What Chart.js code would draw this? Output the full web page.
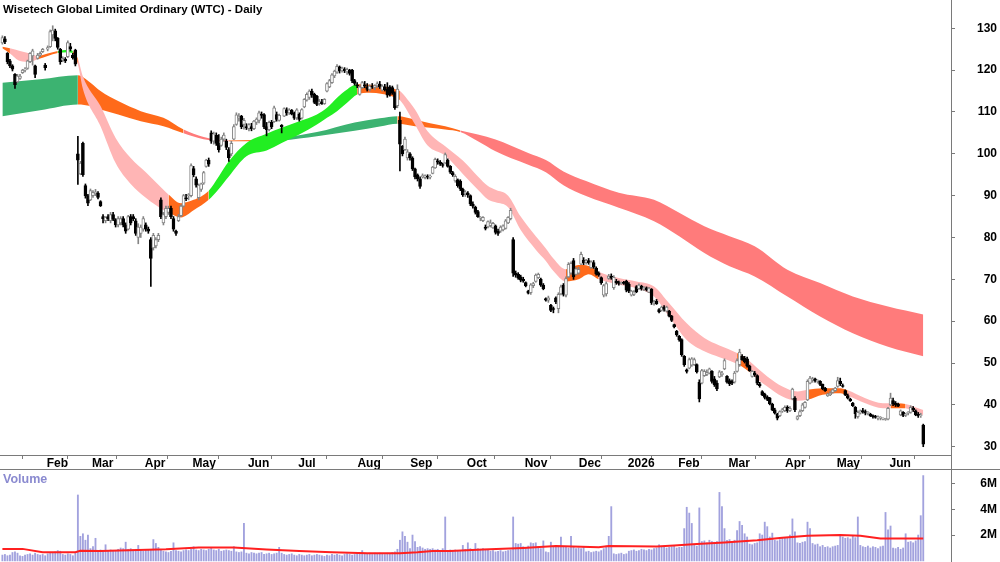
<!DOCTYPE html>
<html>
<head>
<meta charset="utf-8">
<script src="https://cdn.jsdelivr.net/npm/chart.js@4.4.1/dist/chart.umd.min.js"></script>
<style>
  body { margin: 0; background: #fff; width: 1000px; height: 562px; overflow: hidden; position: relative; }
  #pc { position: absolute; left: 0; top: 0; }
  #vc { position: absolute; left: 0; top: 469px; }
  .t { position: absolute; font-weight: bold; white-space: nowrap; line-height: 1;
       font-family: 'Liberation Sans Narrow', 'Arial Narrow', 'Liberation Sans', Arial, sans-serif; }
  .ln { position: absolute; background: #7a7a7a; }
</style>
</head>
<body>
<canvas id="pc" width="1000" height="469"></canvas>
<canvas id="vc" width="1000" height="93"></canvas>
<div class="ln" style="left:951px;top:0;width:1px;height:562px"></div>
<div class="ln" style="left:0;top:469px;width:1000px;height:1px"></div>
<div class="t" style="left:3px;top:4px;font-size:11.5px;color:#000">Wisetech Global Limited Ordinary (WTC) - Daily</div>
<div class="t" style="left:3px;top:473px;font-size:12.5px;color:#8a8ad0">Volume</div>
<script>
const F = "'Liberation Sans Narrow','Arial Narrow','Liberation Sans',Arial,sans-serif";
Chart.defaults.font.family = F;

// daily bars, index 0 = first session shown (mid Jan 2025)
const opens = [
  126.5,127.5,124,122.2,121,119,117.2,118,119.4,120,
  120.4,122,123.4,121,122.8,123.6,124.4,121.2,125,125.6,
  128.4,129.4,127.6,125,122.4,122.6,123.2,125.6,123.6,124.8,
  100,95.2,102.5,92.4,90,89,90,90.4,90.6,88.6,
  85,84,85,84,85.5,84.3,83,83.5,84.5,83,
  82,85,85,84,80,81,82,83,82,79.5,
  77.5,78,79.5,89,83.5,85,86,87,84.5,81.5,
  84,85.2,87.5,89.5,90,90,96.5,94,89.5,91.5,
  93,97,98.5,105,103,104.5,102.5,102,103.5,103,
  101,100,103.5,107,108.5,109,107,106.5,106,106.5,
  106,107.5,108,109.5,109.4,106.5,105.8,107.5,107.7,109.4,
  108,106.8,109,110.5,109.8,110.4,109.8,108.6,109.5,108.5,
  111.2,112.8,113.5,115,114.2,113.8,112,112.4,112,115,
  116,117,118.6,119.5,120.8,119.8,120.2,119.6,120,120,
  117.5,116.5,114.2,115.8,116.5,116,115.4,116,115.8,116.2,
  116.6,115.2,116,115.5,116,115.8,114.6,111.5,108,101.8,
  101,99,100,99,96.4,95,94,94.5,94.3,94.5,
  94.4,95.3,96.6,98.3,98,97.4,97.8,98.5,97,95.5,
  93.5,93.8,93.5,91.5,90.5,90.6,90,88,87.3,86.2,
  84.6,84,82.5,82.5,82.8,82.3,82.8,81.5,81.5,81.8,
  82.2,83.5,84.5,79.5,71.5,71.2,70.6,70,69.2,67.2,
  66.8,68.5,69.5,70.4,70,68.6,65.4,65,63.8,63,
  65.6,63,66.5,68.6,66.2,70.6,71.5,74.5,71.2,71.5,
  73.6,74.6,74,74.5,72.8,74,72.7,71.5,70.4,66.2,
  66.5,70.2,70.8,68,69.5,69.2,69,69.3,69.5,68.8,
  66.2,66.4,68.3,67.8,68.4,67.8,68,66.9,67.6,64.4,
  64.8,62.8,62.6,63.4,62.4,62.4,61.2,59.2,57.6,56.4,
  55.6,51.6,48.4,48.8,49.5,49.6,49.6,45.4,45.2,47,
  47.3,47.6,48,46.2,45.2,46.7,47.2,48.6,46.8,45.8,
  45.6,45.4,48,49.6,51.6,51.2,51,49.2,46.8,47.6,
  47,45,43.2,42.6,41.9,41.6,40.2,38.8,37.8,37.4,
  38.5,38.6,39.5,38.6,41.4,41.6,36.6,37.4,38.6,39.4,
  41.2,45.2,46,46.2,45.6,45.6,44.9,44,42.2,42.4,
  43,43.4,44.4,45.6,44.6,43.4,42.2,41.4,40.4,39.4,
  37.2,38,38.6,38.4,38,37.8,37.4,37.2,36.8,36.8,
  36.6,36.5,36.6,40,41,40.4,40.2,37.6,38.2,37.5,
  38,38.2,39.2,38.6,37.8,37.4,35.2
];
const highs = [
  128.2,128,124.2,122.6,121.3,119.2,119,119,120.2,120.6,
  122.4,124.2,125,121.2,124,124.4,125.2,121.6,125.8,129.6,
  130.6,129.8,127.8,125.2,123.2,123,127,126.4,124,125,
  104.2,98.2,102.8,92.8,90.3,91.6,91.2,91.5,91,88.8,
  85.5,85,85.5,86,86,84.5,85,85,85,83.5,
  85.3,85.5,85.5,84.5,83.3,83,85,83.5,82.5,80,
  81,80,81,89.5,86,87.5,87.5,87.5,85,81.8,
  85.5,87.8,90.3,90.3,90.5,97.6,97,94.5,92.8,93,
  95.8,98.7,99,105.5,105.2,105,104.6,104,105,103.5,
  101.5,103,107,109.8,109.6,109.2,108.5,107.2,107.2,107.3,
  108,108.6,110.2,110,109.6,107.5,107.8,108,111.4,110,
  109.5,107,111,111,110.8,110.6,110,110.8,109.8,110.8,
  113.2,114.6,115.3,115.5,114.5,114,113,113,113.2,117,
  117.8,119.2,120,121.3,121,120.7,120.6,120.5,120.2,120.2,
  117.8,117,116.3,117.3,117.3,116.8,116.5,116.8,116.5,117.2,
  117.3,116.5,116.6,117,116.3,116.2,114.8,116.5,110,102,
  104,101,100.3,99.3,96.6,95.2,94.5,95.2,95,95,
  95,97,99,98.8,98.4,97.8,100.2,98.8,97.2,95.8,
  95,94,93.8,91.8,91.2,91,90.2,88.5,87.5,86.5,
  85,85,83,84,84.2,83.6,83,82,82.8,83,
  84.3,85,87,80,72,71.6,71,70.5,69.4,67.4,
  69,69.3,71.3,71.5,70.3,69,65.6,66,64,63.4,
  65.8,66.8,68.6,69,70.6,74,74.2,75,72.8,72.9,
  76.5,75.2,74.8,75,74.4,74.5,73,71.8,70.6,68.8,
  69.4,71.2,71.3,70.9,70,69.6,69.4,69.5,69.8,69.2,
  67.4,67.3,68.5,68.9,68.6,68.3,68.2,68.1,67.8,65,
  65.2,63,63.6,63.7,63.6,62.6,61.4,59.3,57.8,56.6,
  55.8,51.8,48.6,51.2,51.3,51.2,49.8,46,48.5,48.4,
  48.4,48.8,48.2,46.8,45.8,48.2,48,51,47,46.2,
  46,48,51,53.3,52,51.6,51.4,49.5,48.2,48,
  47.2,45.4,43.4,42.8,42.2,41.8,40.4,39.2,38,38.6,
  39.2,39.8,39.8,39.6,44,42,37.4,38.8,40.4,40.8,
  46,46.8,46.6,46.4,46,45.8,45,44.2,42.8,43.2,
  43.8,44.2,46.6,46.4,45,43.6,42.6,41.6,40.6,39.6,
  38.6,38.8,39.2,38.8,38.4,38,37.6,37.5,37.4,37.2,
  36.9,36.8,39.4,42.8,41.6,40.8,40.4,38.8,38.4,38,
  38.4,39.8,39.6,38.8,38.2,38,35.4
];
const lows = [
  126.2,126.3,121.5,120.6,119.8,115.6,117,117.8,119.2,119.6,
  120.2,121.8,121.2,118.2,122.6,123.2,124.2,120,124.6,125.4,
  127,127,125,121.4,122,121.8,123,124.6,122.6,121,
  92.7,95,94.6,89.4,87.6,88.8,89.6,90,89.2,87.4,
  83.5,83.5,84,83.5,84,82.5,82.5,83,82.5,81,
  81.8,83,84,80.5,78.5,80,81.5,81.5,81,68.3,
  77,77.5,79,84.5,83,84.5,85.5,84.5,81.5,80.5,
  83.8,85,87.3,88.8,89,89.7,94.5,92,89,91,
  92.7,96.8,97,102.5,102.3,102,100.4,101.8,103,101,
  98.2,99.5,103.4,106.8,107.8,106,105.9,105.8,105.5,105.5,
  105.8,107,107.4,108.5,106,104.3,105.5,106,107.5,107.8,
  107.8,105,108.9,109.2,109.4,109.3,108.2,108.2,107.8,108.3,
  111,112.6,113,113.5,112,111.5,111.6,111.8,111.8,114.8,
  115.8,116.8,118.2,119.2,119.3,119.5,119.4,119,118.8,117,
  116.4,115.8,114,115.6,115.8,115,115,115.6,115.3,115.8,
  115.6,115,115,113.5,113.8,114.2,110.6,111,95.9,99.5,
  100.8,98.5,98.5,96,94,93.5,91.7,94.2,94,94,
  94,95.2,96.5,97.5,97.2,96.8,97.6,96.8,95.3,94.6,
  93.2,92,91.2,89.8,89.8,89.6,87.6,87,85.6,84.8,
  84,83.8,81.8,82.3,82.5,82.2,80.8,80.5,81.2,81.6,
  82,83.3,84.2,70.7,70.5,70,69.4,69.3,68.2,66.5,
  66.4,68,69.3,70.2,68.3,67.5,64.8,64.5,62.3,62,
  64.2,62,66.3,66,65.8,70.4,71.2,70,71,71.2,
  73.5,73.5,73.6,73.6,72.6,72.6,71,70.7,68.8,65.8,
  66,70,70,67.6,68.8,68.6,68.8,68.8,67,66.8,
  66,66.1,66.8,67.6,67.4,67.3,67.2,66.8,64,63.8,
  64,62,62.4,62.4,62.2,61,59.9,58.4,56.4,55.2,
  51.6,49.2,47.6,48.6,49.2,49.4,47.6,40.7,45,46.8,
  47,47.4,45.2,44.4,43.4,46.5,46.8,48.4,45.2,44.6,
  44.8,45.2,47.8,49.2,50.6,50,49,48,46.6,46.8,
  44.8,44.2,42.2,41.4,41,40,38.6,37.8,36.4,37.2,
  38.2,38.4,38.2,38.4,41.2,38.4,36.4,37.2,38.4,39.2,
  41,45,45.4,45.4,45.2,44.6,43.6,43.2,42,42.2,
  42.8,43.2,44.2,44.6,44.2,42.2,41.4,40.8,39.6,36.8,
  36.8,37.8,38,37.6,37.6,37.2,36.8,36.8,36.4,36.4,
  36.4,36.3,36.4,39.8,39.8,39.6,39.6,37.4,37.2,37.2,
  37.6,38,38.4,37.4,37,37,30
];
const closes = [
  127.8,126.8,122,121,120.2,116.5,118.6,118.6,120,120.2,
  122.2,124,124.6,119,123.6,124,125,120.6,125.4,129.2,
  129.6,127.6,125.4,122,122.8,122.2,126.6,125,123,121.4,
  98.5,97.8,95,90,88.2,91.2,90.8,90.9,89.6,87.6,
  84.5,84.8,84.5,85.5,84.3,83,84.5,84.5,83,81.5,
  85,83.5,84.5,81,82.5,82.5,84.5,82,81.5,75,
  80.5,79.5,80.5,85,85.5,87,87,85,82,81,
  85,87.5,90,89.2,90,97.2,95,92.5,92.5,92.8,
  95.5,98.5,97.5,103,104.8,102.5,101,103.5,104.5,101.5,
  99,102.5,106.5,109.3,109,106.5,108,106.2,107,106,
  107.8,108.3,109.8,109.2,106.4,105.8,107.5,106.5,111,108.2,
  109.2,106.5,110.8,109.8,110.5,109.5,108.5,110.5,108.2,110.6,
  113,114.2,115,114,112.3,111.8,112.5,112,113,116.8,
  117.5,118.9,119.8,120.9,119.8,120.5,119.8,120.2,119.2,117.4,
  116.8,116.2,116,117,116.2,115.4,116.2,115.9,116.3,116.8,
  116,116.2,115.3,114,114.2,114.6,111,115.5,102.3,100,
  103.5,100.5,99,96.4,94.5,94,92.2,94.8,94.8,94.4,
  94.7,96.8,98.7,98,97.5,97.2,99.8,97,95.6,95,
  94.6,92.4,91.6,90.2,90.8,90.2,88,87.5,86,85,
  84.6,84.8,82.2,83.8,83.5,83.4,81.2,81,82.5,82.8,
  84,84.8,86.5,71.5,71,70.3,69.8,69.6,68.5,66.7,
  68.7,69,71,71.2,68.6,67.8,65,65.6,62.6,62.8,
  64.6,66.4,68.2,66.4,70.2,73.6,73.8,70.6,72.5,72.4,
  76,74,74.5,73.9,74.2,72.9,71.3,71,69.2,68.5,
  69,70.8,70.3,70.5,69.2,69,69.2,69,67.4,67.2,
  67.2,67,67,68.6,67.8,68,67.5,67.9,64.4,64.6,
  64.2,62.2,63.4,62.8,63.4,61.2,60.2,58.6,56.8,55.5,
  52,49.6,48,50.8,51,50.8,47.9,41.4,48.2,48,
  47.8,48.6,45.6,44.8,43.8,47.9,47.6,50.6,45.4,45,
  45.2,47.6,50.6,52.6,50.8,50.3,49.3,48.2,48,47.2,
  45.2,44.6,42.4,41.8,41.3,40.2,38.8,38,36.8,38.4,
  38.9,39.4,38.6,39.2,43.8,38.8,37.2,38.4,40,40.6,
  45.6,46.4,46.2,45.8,45.6,44.9,43.9,43.4,42.6,42.8,
  43.6,44,45.8,45,44.4,42.4,41.6,41,39.8,37.9,
  38.2,38.6,38.4,38,38.2,37.4,37.2,37,37.2,36.9,
  36.7,36.6,39.2,41.6,40.2,40,39.7,38.6,37.5,37.8,
  38.2,39.4,38.8,37.6,37.4,37.6,30.6
];
// volume in millions of shares
const volumes = [
  0.45,0.5,0.4,0.45,0.65,0.7,0.6,0.4,0.35,0.45,
  0.5,0.55,0.45,0.6,0.5,0.45,0.5,0.4,0.55,0.6,
  0.65,0.7,0.8,0.75,0.5,0.45,0.55,0.5,0.4,0.6,
  5.1,1.9,2.1,1.6,2.0,0.95,1.1,1.75,0.8,0.85,
  0.8,1.25,0.8,0.85,0.75,0.8,0.9,1.0,0.95,1.45,
  0.9,0.95,0.85,0.9,1.2,0.8,0.75,0.8,0.85,0.9,
  1.65,1.35,1.05,0.85,0.75,0.7,0.65,0.75,1.4,0.8,
  0.75,0.7,0.8,0.85,0.8,0.9,1.1,0.85,0.8,0.9,
  0.85,0.8,0.9,1.05,0.85,0.8,0.9,0.75,0.8,0.85,
  0.8,0.75,1.1,0.7,0.65,0.7,2.9,0.6,0.55,0.65,
  0.6,0.55,0.6,0.65,0.5,0.55,0.6,0.5,0.55,0.6,
  1.05,0.6,0.5,0.45,0.5,0.55,0.45,0.4,0.5,0.45,
  0.4,0.45,0.5,0.4,0.45,0.5,0.45,0.4,0.35,0.45,
  0.4,0.5,0.45,0.5,0.45,0.4,0.5,0.55,0.5,0.45,
  0.5,0.6,0.55,0.8,0.6,0.55,0.6,0.5,0.6,0.55,
  0.6,0.55,0.5,0.6,0.55,0.65,0.7,0.9,1.6,2.25,
  1.9,1.45,0.95,2.0,1.5,1.05,1.1,1.0,0.9,0.95,
  0.9,0.95,0.85,0.9,0.8,0.95,3.4,0.8,0.85,0.8,
  0.85,0.75,0.8,1.2,0.9,1.4,0.95,0.9,1.35,0.95,
  0.9,0.95,0.9,0.85,0.75,0.8,0.7,0.75,0.8,0.7,
  0.75,0.8,0.85,3.4,1.35,1.3,1.35,1.1,1.05,1.15,
  1.4,1.35,1.4,1.1,0.95,1.55,0.7,0.65,1.45,1.05,
  1.1,1.05,1.85,1.05,1.1,1.0,1.9,1.05,0.95,1.0,
  0.95,1.05,0.7,0.75,0.65,0.7,0.75,0.7,0.8,0.95,
  1.15,1.9,4.2,0.55,0.5,0.55,0.6,0.5,0.55,0.75,
  0.8,0.85,0.75,0.8,0.9,0.85,0.8,0.9,0.85,0.95,
  1.0,1.25,1.05,1.1,1.0,1.05,1.1,1.2,1.0,1.05,
  1.05,2.5,4.15,3.7,2.9,1.2,1.15,4.1,1.5,1.55,
  1.4,1.6,1.5,1.45,1.5,5.3,4.2,2.5,1.6,1.65,
  1.5,1.6,2.35,3.05,2.75,2.1,1.85,1.3,1.25,1.35,
  1.4,2.1,2.0,3.0,2.65,1.85,2.15,1.6,1.55,1.65,
  1.8,1.75,1.8,2.0,3.25,2.25,1.4,1.35,1.45,1.5,
  3.0,2.5,1.35,1.25,1.3,1.1,1.2,1.05,1.1,1.0,
  1.1,1.15,1.2,2.0,1.85,1.75,1.8,1.7,1.9,1.8,
  3.4,1.2,1.1,1.05,1.15,1.0,1.1,1.05,0.95,1.1,
  1.15,3.75,2.4,2.7,1.0,0.95,1.05,0.9,1.0,2.1,
  1.45,1.5,1.4,1.55,2.0,3.5,6.6
];

// short-term ribbon: edges read at sample sessions, trend state u/m/d
const shortIdx = [0,3,7,11,14,18,22,26,28,30,32,39,45,51,57,64,66,71,76,82,86,90,97,105,111,118,125,129,133,137,141,146,151,156,158,161,164,169,176,183,189,193,196,201,206,212,216,219,224,229,233,237,245,252,259,265,272,279,285,292,297,300,304,310,316,320,326,333,336,343,350,353,359,362,366];
const shortTop = [125.6,125.2,124.6,124.0,123.4,124.0,124.6,124.9,124.6,122.8,118.5,111.4,103.8,99.0,95.6,91.4,90.3,88.2,89.0,91.2,94.6,98.2,102.6,104.8,106.2,107.8,109.4,111.0,113.4,115.4,116.6,116.5,116.2,115.5,115.0,113.0,110.6,105.4,101.8,98.4,94.6,92.3,91.4,90.0,85.0,80.3,77.4,75.0,72.4,73.4,73.2,71.8,70.3,69.5,68.3,64.3,59.5,56.0,54.2,52.4,50.4,48.8,46.8,44.4,43.2,43.6,44.0,44.0,43.5,41.6,40.4,40.4,40.2,39.6,38.8];
const shortBottom = [125.2,124.0,122.2,122.0,122.6,123.4,124.1,124.3,124.0,121.4,115.5,106.6,97.8,92.8,89.5,86.6,86.0,84.8,86.5,89.0,91.6,94.6,99.4,100.8,102.6,104.6,107.0,108.6,110.2,112.2,114.2,114.6,114.3,113.5,112.8,110.2,107.0,102.0,99.6,95.2,91.4,89.1,88.4,87.2,81.8,77.1,74.4,72.0,69.5,70.0,71.2,70.0,68.7,67.9,65.9,61.1,55.5,52.8,51.4,49.8,47.8,46.2,44.4,42.0,41.0,41.2,42.4,42.8,42.2,40.4,39.2,39.2,39.2,38.4,37.6];
const shortState = ['m','d','d','d','m','m','u','u','m','d','d','d','d','d','d','d','m','m','m','u','u','u','u','u','u','u','u','u','u','u','m','m','m','m','d','d','d','d','d','d','d','d','d','d','d','d','d','d','m','m','m','d','d','d','d','d','d','d','d','m','d','d','d','d','d','m','m','m','d','d','d','m','d','d','d'];

// long-term ribbon
const longIdx = [0,15,30,35,39,46,55,64,72,80,90,100,111,125,140,150,157,164,170,176,182,189,196,202,209,216,223,232,245,259,269,279,289,299,312,325,338,352,366];
const longTop = [117.0,117.8,118.8,117.0,115.0,112.6,110.2,108.6,105.8,104.0,103.2,103.3,103.8,105.2,107.5,108.5,109.0,108.2,107.3,106.6,105.6,104.6,103.4,102.0,100.2,98.5,95.8,93.5,90.7,89.0,85.9,82.7,80.3,77.9,72.3,69.1,65.9,63.5,61.6];
const longBottom = [109.0,110.4,111.8,111.4,110.6,109.4,107.8,106.6,104.9,103.5,103.0,103.0,103.2,104.2,105.5,106.5,107.2,106.6,106.2,105.8,105.2,103.0,100.6,99.0,97.4,95.6,92.5,89.9,87.1,83.9,80.3,76.3,73.1,70.7,65.9,61.1,57.1,53.9,51.6];
const longState = ['u','u','m','m','m','m','m','m','d','d','m','m','u','u','u','u','m','m','m','m','d','d','d','d','d','d','d','d','d','d','d','d','d','d','d','d','d','d','d'];

// volume moving average
const volMaIdx = [0,8,16,29,31,39,65,78,92,105,118,131,145,158,165,171,178,191,207,220,237,241,260,267,276,287,300,310,320,333,341,349,360,366];
const volMa = [0.93,0.93,0.67,0.67,0.78,0.77,0.9,1.03,1.03,0.88,0.77,0.67,0.6,0.6,0.67,0.77,0.77,0.88,1.0,1.15,1.05,1.15,1.12,1.2,1.3,1.43,1.6,1.8,1.95,2.0,1.95,1.73,1.73,1.73];

const monthIdx = [17,35,56,75,97,117,140.5,161.5,184,207,228.5,248,268,288,310.5,331,352];
const monthLabels = ['Feb','Mar','Apr','May','Jun','Jul','Aug','Sep','Oct','Nov','Dec','2026','Feb','Mar','Apr','May','Jun'];
const priceTicks = [30,40,50,60,70,80,90,100,110,120,130];
const volTicks = [2,4,6];

const shortColors = { u: '#22ee22', m: '#ff6a1a', d: '#ffb5b5' };
const longColors = { u: '#3cb371', m: '#ff6a1a', d: '#ff7b7b' };
const UP = '#858585';
const GRID = '#7a7a7a';
const X_MIN = -0.954, X_MAX = 377.03;
const AXIS_W = 46;
const tickFont = { family: F, size: 12, weight: 'bold' };

function widest(labels, size) {
  const c = document.createElement('canvas').getContext('2d');
  c.font = 'bold ' + size + 'px ' + F;
  return Math.max.apply(null, labels.map(s => c.measureText(s).width));
}
const pricePad = 997 - 951 - 4 - widest(priceTicks.map(String), 12);
const volPad = 997 - 951 - 4 - widest(volTicks.map(v => v + 'M'), 12);

function pts(xs, ys) { return xs.map((x, i) => ({ x: x, y: ys[i] })); }

function yAxis(min, max, ticks, pad, cb) {
  return {
    type: 'linear', position: 'right', min: min, max: max,
    afterBuildTicks: s => { s.ticks = ticks.map(v => ({ value: v })); },
    afterFit: s => { s.width = AXIS_W; s.paddingTop = 0; s.paddingBottom = 0; },
    grid: { drawOnChartArea: false, tickLength: 4, color: GRID },
    border: { display: false },
    ticks: { crossAlign: 'far', padding: pad, color: '#000', font: tickFont, callback: cb }
  };
}

// price panel
new Chart(document.getElementById('pc'), {
  type: 'bar',
  data: {
    datasets: [
      { type: 'line', data: pts(longIdx, longBottom), borderWidth: 0, pointRadius: 0,
        fill: false, cubicInterpolationMode: 'monotone', order: 20 },
      { type: 'line', data: pts(longIdx, longTop), borderWidth: 0, pointRadius: 0,
        fill: '-1', backgroundColor: longColors.d, cubicInterpolationMode: 'monotone', order: 19,
        segment: { backgroundColor: c => longColors[longState[c.p0DataIndex]] } },
      { type: 'line', data: pts(shortIdx, shortBottom), borderWidth: 0, pointRadius: 0,
        fill: false, cubicInterpolationMode: 'monotone', order: 18 },
      { type: 'line', data: pts(shortIdx, shortTop), borderWidth: 0, pointRadius: 0,
        fill: '-1', backgroundColor: shortColors.d, cubicInterpolationMode: 'monotone', order: 17,
        segment: { backgroundColor: c => shortColors[shortState[c.p0DataIndex]] } },
      { data: closes.map((c, i) => ({ x: i, y: [lows[i], highs[i]] })),
        backgroundColor: closes.map((c, i) => c >= opens[i] ? UP : '#000'),
        barThickness: 1, grouped: false, order: 2 },
      { data: closes.map((c, i) => ({ x: i, y: [Math.min(c, opens[i]), Math.max(c, opens[i])] })),
        backgroundColor: closes.map((c, i) => c >= opens[i] ? '#fff' : '#000'),
        borderColor: closes.map((c, i) => c >= opens[i] ? UP : '#000'),
        borderWidth: 1, borderSkipped: false, barThickness: 3, minBarLength: 1,
        grouped: false, order: 1 }
    ]
  },
  options: {
    responsive: false, animation: false, events: [],
    layout: { padding: { left: 0, right: 3, top: 0, bottom: 0 } },
    plugins: { legend: { display: false }, tooltip: { enabled: false } },
    scales: {
      x: {
        type: 'linear', min: X_MIN, max: X_MAX, offset: false,
        afterBuildTicks: s => { s.ticks = monthIdx.map(v => ({ value: v })); },
        afterFit: s => { s.height = 14; s.paddingLeft = 0; s.paddingRight = 0; },
        grid: { drawOnChartArea: false, tickLength: 4, color: GRID },
        border: { display: true, color: GRID },
        ticks: { autoSkip: false, maxRotation: 0, align: 'start', labelOffset: 1.5, padding: -3,
                 color: '#000', font: tickFont, callback: (v, i) => monthLabels[i] }
      },
      y: yAxis(28.02, 136.76, priceTicks, pricePad)
    }
  }
});

// volume panel
new Chart(document.getElementById('vc'), {
  type: 'bar',
  data: {
    datasets: [
      { type: 'line', data: pts(volMaIdx, volMa), borderColor: '#ff2020', borderWidth: 2,
        pointRadius: 0, tension: 0, order: 1 },
      { data: volumes.map((v, i) => ({ x: i, y: v })), backgroundColor: '#a2a2de',
        barThickness: 1.2, grouped: false, order: 2 }
    ]
  },
  options: {
    responsive: false, animation: false, events: [],
    layout: { padding: { left: 0, right: 3, top: 0, bottom: 0 } },
    plugins: { legend: { display: false }, tooltip: { enabled: false } },
    scales: {
      x: { type: 'linear', display: false, min: X_MIN, max: X_MAX, offset: false },
      y: yAxis(-0.085, 7.11, volTicks, volPad, v => v + 'M')
    }
  }
});
</script>
</body>
</html>
